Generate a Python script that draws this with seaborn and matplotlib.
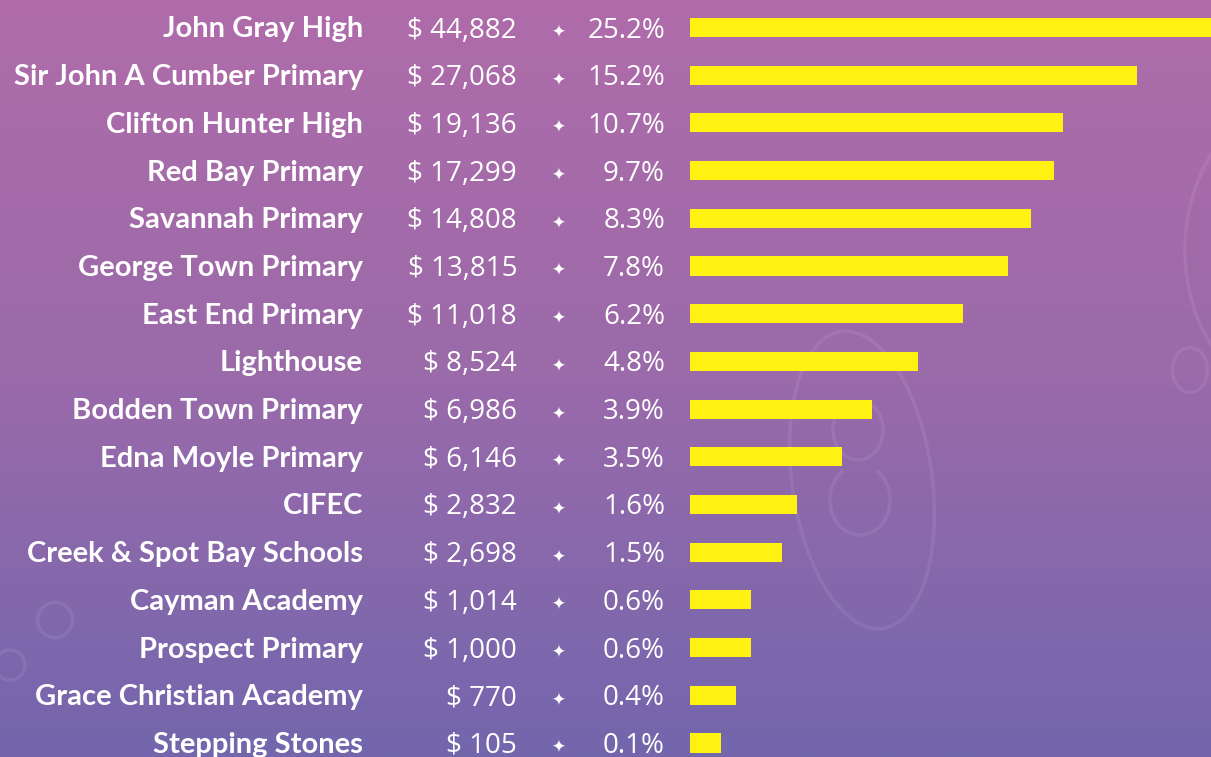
import numpy as np
import pandas as pd
import matplotlib.pyplot as plt
import seaborn as sns
from matplotlib.colors import LinearSegmentedColormap
from matplotlib.transforms import blended_transform_factory
from matplotlib.patches import Ellipse, Arc

schools = ["John Gray High", "Sir John A Cumber Primary", "Clifton Hunter High",
           "Red Bay Primary", "Savannah Primary", "George Town Primary",
           "East End Primary", "Lighthouse", "Bodden Town Primary",
           "Edna Moyle Primary", "CIFEC", "Creek & Spot Bay Schools",
           "Cayman Academy", "Prospect Primary", "Grace Christian Academy",
           "Stepping Stones"]
amounts = [44882, 27068, 19136, 17299, 14808, 13815, 11018, 8524,
           6986, 6146, 2832, 2698, 1014, 1000, 770, 105]
shares = [25.2, 15.2, 10.7, 9.7, 8.3, 7.8, 6.2, 4.8,
          3.9, 3.5, 1.6, 1.5, 0.6, 0.6, 0.4, 0.1]
# bar lengths as drawn in the graphic (they are not proportional to the amounts)
bar_len = [560, 447, 373, 364, 341, 318, 273, 228,
           182, 152, 107, 92, 61, 61, 46, 31]

W, H = 1211, 757
fig = plt.figure(figsize=(W / 100, H / 100), dpi=100)

# purple gradient background with faint swirls
bg = fig.add_axes([0, 0, 1, 1])
cmap = LinearSegmentedColormap.from_list("bg", ["#b06ca9", "#9a6aaa", "#7366ad"])
bg.imshow(np.linspace(0, 1, 256)[:, None], aspect="auto", cmap=cmap,
          extent=[0, W, H, 0])
swirl = dict(fill=False, color="white", alpha=0.08, lw=2.5)
bg.add_patch(Ellipse((862, 480), 140, 300, angle=-8, **swirl))
bg.add_patch(Arc((858, 430), 50, 60, theta1=-60, theta2=220, **swirl))
bg.add_patch(Arc((860, 500), 60, 70, theta1=-60, theta2=240, **swirl))
bg.add_patch(Ellipse((1190, 370), 35, 45, **swirl))
bg.add_patch(Arc((1300, 250), 230, 300, theta1=120, theta2=240, **swirl))
bg.add_patch(Arc((1070, 760), 240, 780, theta1=0, theta2=90, **swirl))
bg.add_patch(Arc((1240, 800), 560, 300, theta1=100, theta2=180,
                 fill=False, color="white", alpha=0.08, lw=2.5, ls=(0, (5, 6))))
bg.add_patch(Ellipse((55, 620), 35, 35, **swirl))
bg.add_patch(Ellipse((10, 665), 30, 30, **swirl))
bg.set_xlim(0, W)
bg.set_ylim(H, 0)
bg.axis("off")

# bars
x0 = 690
ax = fig.add_axes([x0 / W, 0, 1 - x0 / W, 1])
ax.patch.set_alpha(0)
df = pd.DataFrame({"school": schools, "length": bar_len})
sns.barplot(data=df, x="length", y="school", color="#fff212", saturation=1,
            width=0.4, ax=ax)
row, top = 47.7, 27.5
ax.set_xlim(0, W - x0)
ax.set_ylim(15 + (H - (top + 15 * row)) / row, -top / row)
ax.axis("off")

tr = blended_transform_factory(fig.transFigure, ax.transData)
for i, (name, amt, pct) in enumerate(zip(schools, amounts, shares)):
    yb = i + 10 / row
    ax.text(363 / W, yb, name, transform=tr, ha="right", va="baseline",
            fontsize=21, fontweight="bold", family="Lato", color="white")
    ax.text(517 / W, yb, f"\\$ {amt:,}", transform=tr, ha="right", va="baseline",
            fontsize=20, family="Open Sans", color="white")
    ax.text(558 / W, i + 5 / row, "\u2726", transform=tr, ha="center",
            va="center", fontsize=12, family="DejaVu Sans", color="white")
    ax.text(665 / W, yb, f"{pct:.1f}%", transform=tr, ha="right", va="baseline",
            fontsize=20, family="Open Sans", color="white")

fig.savefig("out.png", dpi=100)
